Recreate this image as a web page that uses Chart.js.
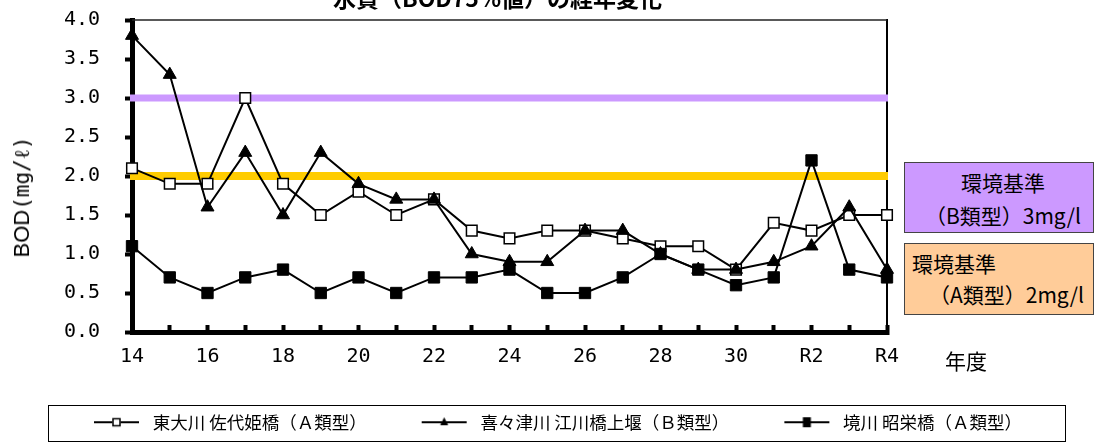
<!DOCTYPE html>
<html lang="ja">
<head>
<meta charset="utf-8">
<script src="https://cdn.jsdelivr.net/npm/chart.js@4.4.1/dist/chart.umd.min.js"></script>
<style>
  body { margin: 0; background: #fff; }
  #wrap { position: relative; width: 1095px; height: 443px; overflow: hidden; font-family: 'Noto Sans CJK JP', sans-serif; color: #000; }
  #chart { position: absolute; left: 0; top: 0; }
  .title { position: absolute; left: 333px; top: -14px; font-size: 23px; line-height: 23px; font-weight: bold; white-space: nowrap; }
  .ytitle { position: absolute; left: 22px; top: 197px; transform: translate(-50%, -50%) rotate(-90deg); white-space: nowrap; }
  .ytitle .a { font-family: 'Liberation Sans', sans-serif; font-size: 22px; }
  .ytitle .b { font-family: 'DejaVu Sans Mono', monospace; font-size: 21px; }
  .nendo { position: absolute; left: 945px; top: 346px; font-size: 21px; line-height: 28px; }
  .std { position: absolute; left: 904px; width: 190px; box-sizing: border-box; border: 1.5px solid #444; font-size: 21px; }
  .stdB { top: 162px; height: 71px; background: #cc99ff; text-align: center; padding: 3px 0 0 8px; line-height: 33px; }
  .stdA { top: 243px; height: 72px; background: #ffcc99; padding: 4px 0 0 7px; line-height: 31px; }
  .stdA .l2 { padding-left: 17px; }
</style>
</head>
<body>
<div id="wrap">
  <canvas id="chart" width="1095" height="443"></canvas>
  <div class="title">水質（BOD75%値）の経年変化</div>
  <div class="ytitle"><span class="a">BOD</span><span class="b">(mg/ℓ)</span></div>
  <div class="nendo">年度</div>
  <div class="std stdB"><div>環境基準</div><div>（B類型）3mg/l</div></div>
  <div class="std stdA"><div>環境基準</div><div class="l2">（A類型）2mg/l</div></div>
</div>
<script>
// 年度（平成14〜31、令和2〜4）
const years = ['14','15','16','17','18','19','20','21','22','23','24','25','26','27','28','29','30','R1','R2','R3','R4'];

// BOD75%値 (mg/l)
const higashiOkawa = [2.1,1.9,1.9,3.0,1.9,1.5,1.8,1.5,1.7,1.3,1.2,1.3,1.3,1.2,1.1,1.1,0.8,1.4,1.3,1.5,1.5];
const kikitsu      = [3.8,3.3,1.6,2.3,1.5,2.3,1.9,1.7,1.7,1.0,0.9,0.9,1.3,1.3,1.0,0.8,0.8,0.9,1.1,1.6,0.8];
const sakai        = [1.1,0.7,0.5,0.7,0.8,0.5,0.7,0.5,0.7,0.7,0.8,0.5,0.5,0.7,1.0,0.8,0.6,0.7,2.2,0.8,0.7];

const seriesNames = ['東大川 佐代姫橋（Ａ類型）', '喜々津川 江川橋上堰（Ｂ類型）', '境川 昭栄橋（Ａ類型）'];

// 環境基準 B類型 / A類型
const standards = [3.0, 2.0];

const yTicks = { min: 0, max: 4, step: 0.5 };

// ======================
// LEGEND ICONS
// ======================

// icon sits at the right end of a wide transparent canvas, the empty part
// gives the gap between legend entries
function legendIcon(kind){
  const c = document.createElement('canvas');
  c.width = 93; c.height = 14;
  const g = c.getContext('2d');
  const x0 = 43, x1 = 88, mx = 65.5;
  g.strokeStyle = '#000';
  g.lineWidth = 2;
  g.beginPath(); g.moveTo(x0, 7); g.lineTo(x1, 7); g.stroke();
  g.lineWidth = 1.5;
  if (kind === 'open') {
    g.fillStyle = '#fff';
    g.fillRect(mx - 4, 3, 8, 8);
    g.strokeRect(mx - 3.5, 3.5, 7, 7);
  } else if (kind === 'tri') {
    g.fillStyle = '#000';
    g.beginPath(); g.moveTo(mx, 2); g.lineTo(mx + 4, 10); g.lineTo(mx - 4, 10); g.closePath(); g.fill();
  } else {
    g.fillStyle = '#000';
    g.fillRect(mx - 4, 2, 8, 10);
  }
  return c;
}

const icons = [legendIcon('open'), legendIcon('tri'), legendIcon('solid')];

// ======================
// PLUGINS
// ======================

const standardLines = {
  id: 'standardLines',
  beforeDatasetsDraw(chart){
    const {ctx, chartArea, scales} = chart;
    const colors = ['#cc99ff', '#ffcc00'];
    const widths = [7, 8];
    ctx.save();
    // top frame line of the plot area
    ctx.strokeStyle = '#222';
    ctx.lineWidth = 1.5;
    ctx.beginPath();
    ctx.moveTo(chartArea.left, chartArea.top);
    ctx.lineTo(chartArea.right, chartArea.top);
    ctx.stroke();
    standards.forEach((v, i) => {
      const y = scales.y.getPixelForValue(v);
      ctx.strokeStyle = colors[i];
      ctx.lineWidth = widths[i];
      ctx.beginPath();
      ctx.moveTo(chartArea.left - 2, y);
      ctx.lineTo(chartArea.right + 1, y);
      ctx.stroke();
    });
    ctx.restore();
  }
};

const legendFrame = {
  id: 'legendFrame',
  afterDraw(chart){
    const ctx = chart.ctx;
    ctx.save();
    ctx.strokeStyle = '#000';
    ctx.lineWidth = 1;
    ctx.strokeRect(48.5, 405.5, 1017, 36);
    ctx.restore();
  }
};

Chart.defaults.font.family = "'Noto Sans CJK JP', sans-serif";
Chart.defaults.color = '#000';

const tickFont = { family: "'DejaVu Sans Mono', monospace", size: 20 };

new Chart(document.getElementById('chart'), {
  type: 'line',
  data: {
    labels: years,
    datasets: [
      {
        label: seriesNames[0],
        data: higashiOkawa,
        borderColor: '#000',
        borderWidth: 2,
        pointStyle: 'rect',
        pointRadius: 7.5,
        pointBackgroundColor: '#fff',
        pointBorderColor: '#000',
        pointBorderWidth: 1.5,
        order: 2
      },
      {
        label: seriesNames[1],
        data: kikitsu,
        borderColor: '#000',
        borderWidth: 2,
        pointStyle: 'triangle',
        pointRadius: 7.5,
        pointBackgroundColor: '#000',
        pointBorderColor: '#000',
        pointBorderWidth: 1,
        order: 1
      },
      {
        label: seriesNames[2],
        data: sakai,
        borderColor: '#000',
        borderWidth: 2,
        pointStyle: 'rect',
        pointRadius: 8,
        pointBackgroundColor: '#000',
        pointBorderColor: '#000',
        pointBorderWidth: 1,
        order: 0
      }
    ]
  },
  options: {
    responsive: false,
    animation: false,
    devicePixelRatio: 1,
    layout: { padding: { left: 0, right: 22, top: 20, bottom: 2 } },
    plugins: {
      tooltip: { enabled: false },
      legend: {
        position: 'bottom',
        onClick: null,
        labels: {
          usePointStyle: true,
          pointStyleWidth: 93,
          padding: 12,
          font: { size: 17.5 },
          color: '#000',
          generateLabels: chart => chart.data.datasets.map((ds, i) => ({
            text: ds.label,
            pointStyle: icons[i],
            fillStyle: '#000',
            strokeStyle: '#000',
            lineWidth: 0,
            hidden: false,
            datasetIndex: i
          }))
        }
      }
    },
    scales: {
      x: {
        type: 'category',
        offset: false,
        afterFit: s => { s.height = 69.5; },
        grid: { drawOnChartArea: false, drawTicks: true, tickLength: -7, tickColor: '#000', tickWidth: 4 },
        border: { color: '#000', width: 5 },
        ticks: {
          autoSkip: false,
          maxRotation: 0,
          padding: 20,
          font: tickFont,
          callback: function(v, i){ return i % 2 === 0 ? this.getLabelForValue(v) : ''; }
        }
      },
      y: {
        min: yTicks.min,
        max: yTicks.max,
        // fixed width; tick padding would otherwise push the plot top down
        afterFit: s => { s.width = 132; s.paddingTop = 0; s.paddingBottom = 0; },
        grid: { drawOnChartArea: false, drawTicks: true, tickLength: 7, tickColor: '#000', tickWidth: 4 },
        border: { color: '#000', width: 5 },
        ticks: {
          stepSize: yTicks.step,
          padding: 25,
          font: tickFont,
          callback: v => v.toFixed(1)
        }
      },
      y2: {
        position: 'right',
        min: yTicks.min,
        max: yTicks.max,
        afterFit: s => { s.width = 186; },
        grid: { display: false },
        border: { color: '#000', width: 2 },
        ticks: { display: false }
      }
    }
  },
  plugins: [standardLines, legendFrame]
});
</script>
</body>
</html>
